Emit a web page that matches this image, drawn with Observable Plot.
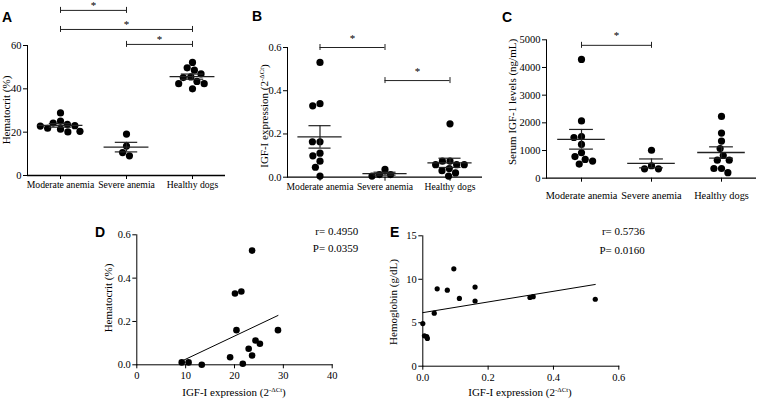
<!DOCTYPE html>
<html>
<head>
<meta charset="utf-8">
<script src="https://cdn.jsdelivr.net/npm/d3@7"></script>
<script src="https://cdn.jsdelivr.net/npm/@observablehq/plot@0.6"></script>
<style>
  html, body { margin: 0; padding: 0; background: #fff; }
  #fig { position: relative; width: 757px; height: 402px; background: #fff; overflow: hidden; font-family: "Liberation Serif", serif; color: #000; }
  #fig svg { position: absolute; background: transparent !important; overflow: visible; max-width: none; font-family: "Liberation Serif", serif !important; }
  #fig svg text, #fig svg g { font-family: "Liberation Serif", serif !important; }
  .ttl { position: absolute; font-family: "Liberation Serif", serif; font-size: 11px; white-space: nowrap; line-height: 1; }
  .rot { transform: translate(-50%, -50%) rotate(-90deg); }
  .hor { transform: translate(-50%, -50%); }
  .ttl sup { font-size: 0.62em; vertical-align: 0.55em; line-height: 0; }
  .letter { position: absolute; font-family: "Liberation Sans", Arial, sans-serif; font-weight: bold; font-size: 14px; line-height: 14px; }
</style>
</head>
<body>
<div id="fig"></div>
<script>
// ---------- data ----------
const groups = ["Moderate anemia", "Severe anemia", "Healthy dogs"];

// Panel A: Hematocrit (%)
const hctModerate = [28.9, 25.1, 24.2, 23.6, 23.0, 21.8, 21.4, 20.4, 20.1, 22.8];
const hctSevere = [19.1, 13.6, 10.6, 9.1];
const hctHealthy = [52.2, 49.7, 48.6, 46.9, 45.5, 45.2, 43.4, 42.4, 42.4, 40.0];
const ticksA = [0, 20, 40, 60];
const bracketsA = [[0, 1, 76.2], [0, 2, 67.4], [1, 2, 60.5]];

// Panel B: IGF-I expression (2^-ΔCt)
const igfModerate = [0.531, 0.340, 0.330, 0.164, 0.164, 0.111, 0.099, 0.074, 0.046, 0.005];
const igfSevere = [0.036, 0.012, 0.012, 0.005];
const igfHealthy = [0.247, 0.075, 0.074, 0.058, 0.058, 0.058, 0.040, 0.030, 0.020, 0.005];
const ticksB = [0, 0.2, 0.4, 0.6];
const bracketsB = [[0, 1, 0.6], [1, 2, 0.447]];

// Panel C: Serum IGF-1 levels (ng/mL)
const serumModerate = [4290, 2070, 1500, 1470, 1220, 920, 780, 680, 620, 510];
const serumSevere = [1010, 450, 340, 340];
const serumHealthy = [2230, 1630, 1340, 1070, 820, 650, 650, 350, 350, 200];
const ticksC = [0, 1000, 2000, 3000, 4000, 5000];
const bracketsC = [[0, 1, 4800]];

// Panel D: hematocrit (y) vs IGF-I expression (x)
const dX = [23.6, 20.1, 21.4, 20.4, 28.9, 24.3, 25.2, 22.9, 23.6, 19.1, 21.7, 13.3, 10.6, 9.2];
const dY = [0.527, 0.329, 0.338, 0.160, 0.160, 0.112, 0.097, 0.074, 0.043, 0.035, 0.005, 0.000, 0.011, 0.011];
const ticksDx = [0, 10, 20, 30, 40];
const ticksDy = [0, 0.2, 0.4, 0.6];
const statsD = ["r= 0.4950", "P= 0.0359"];

// Panel E: hemoglobin (y) vs IGF-I expression (x)
const eX = [0.095, 0.044, 0.075, 0.160, 0.112, 0.160, 0.328, 0.338, 0.528, 0.035, 0.000, 0.005, 0.012, 0.014];
const eY = [11.2, 8.9, 8.75, 9.1, 7.8, 7.5, 7.9, 8.0, 7.7, 6.1, 4.9, 3.5, 3.4, 3.2];
const ticksEx = [0, 0.2, 0.4, 0.6];
const ticksEy = [0, 5, 10, 15];
const statsE = ["r= 0.5736", "P= 0.0160"];

// ---------- helpers ----------
const fig = document.getElementById("fig");
const baseStyle = {fontFamily: "'Liberation Serif', serif", fontSize: "10.5px", background: "transparent", color: "black", overflow: "visible"};

function place(svg, left, top) {
  svg.style.left = left + "px";
  svg.style.top = top + "px";
  fig.appendChild(svg);
}

function dotPanel(o) {
  const rows = o.series.flatMap((vals, i) => vals.map(v => ({g: groups[i], v})));
  const stats = o.series.map((vals, i) => {
    const m = d3.mean(vals), s = d3.deviation(vals) / Math.sqrt(vals.length);
    return {g: groups[i], mean: m, lo: m - s, hi: m + s};
  });
  const br = o.brackets.map(([a, b, level]) => ({from: groups[a], span: b - a, level}));
  const base = groups.map(g => ({g, v: o.yDomain[0]}));
  const svg = Plot.plot({
    width: o.width, height: o.height,
    marginLeft: o.ml, marginRight: o.mr, marginTop: o.mt, marginBottom: o.mb,
    style: baseStyle,
    fx: {domain: groups, padding: 0, axis: "bottom", label: null, tickSize: 4, tickPadding: o.catPad},
    x: {domain: [-0.5, 0.5], axis: null},
    y: {domain: o.yDomain, ticks: o.yTicks, tickFormat: o.yFormat, line: true, tickSize: 4, tickPadding: 2, label: null},
    marks: [
      Plot.ruleY(base, {fx: "g", y: "v", stroke: "black", strokeWidth: 1.3}),
      Plot.dot(rows, Plot.dodgeX({anchor: "middle", padding: 0.4}, {fx: "g", y: "v", r: o.r, fill: "black"})),
      Plot.ruleY(stats, {fx: "g", y: "mean", x1: -0.34, x2: 0.34, stroke: "#222", strokeWidth: 1.3}),
      Plot.ruleY(stats, {fx: "g", y: "hi", x1: -0.17, x2: 0.17, stroke: "#222", strokeWidth: 1.2}),
      Plot.ruleY(stats, {fx: "g", y: "lo", x1: -0.17, x2: 0.17, stroke: "#222", strokeWidth: 1.2}),
      Plot.ruleX(stats, {fx: "g", x: 0, y1: "lo", y2: "hi", stroke: "#222", strokeWidth: 1.2}),
      Plot.ruleY(br, {fx: "from", y: "level", x1: 0, x2: "span", stroke: "#222", strokeWidth: 1}),
      Plot.ruleX(br, {fx: "from", x: 0, y1: "level", y2: "level", insetTop: -3, insetBottom: -3, stroke: "#222", strokeWidth: 1}),
      Plot.ruleX(br, {fx: "from", x: "span", y1: "level", y2: "level", insetTop: -3, insetBottom: -3, stroke: "#222", strokeWidth: 1}),
      Plot.text(br, {fx: "from", x: d => d.span / 2, y: "level", text: () => "*", dy: o.starDy, fontSize: 11, fill: "black"})
    ]
  });
  svg.querySelectorAll('[aria-label^="fx-axis"] text').forEach(t => t.style.fontSize = o.catFont);
  place(svg, o.left, o.top);
}

function scatterPanel(o) {
  const rows = o.xs.map((x, i) => ({x, y: o.ys[i]}));
  const svg = Plot.plot({
    width: o.width, height: o.height,
    marginLeft: o.ml, marginRight: o.mr, marginTop: o.mt, marginBottom: o.mb,
    style: baseStyle,
    x: {domain: o.xDomain, ticks: o.xTicks, tickFormat: o.xFormat, line: true, tickSize: 4, tickPadding: 3, label: null},
    y: {domain: o.yDomain, ticks: o.yTicks, tickFormat: o.yFormat, line: true, tickSize: 4, tickPadding: 2, label: null},
    marks: [
      Plot.dot(rows, {x: "x", y: "y", r: o.r, fill: "black"}),
      Plot.linearRegressionY(rows, {x: "x", y: "y", ci: 0, stroke: "black", strokeWidth: 1}),
      Plot.text([o.stats[0]], {frameAnchor: "top-right", textAnchor: "end", dx: 26, dy: o.dy0, fontSize: 11, fill: "black"}),
      Plot.text([o.stats[1]], {frameAnchor: "top-right", textAnchor: "end", dx: 26, dy: o.dy1, fontSize: 11, fill: "black"})
    ]
  });
  place(svg, o.left, o.top);
}

// ---------- panels ----------
dotPanel({series: [hctModerate, hctSevere, hctHealthy], yDomain: [0, 60], yTicks: ticksA, yFormat: "d",
  brackets: bracketsA, left: 0, top: 0, width: 240, height: 205, ml: 27, mr: 15, mt: 45, mb: 30,
  catPad: 2, catFont: "9.7px", starDy: -5, r: 3.6});

dotPanel({series: [igfModerate, igfSevere, igfHealthy], yDomain: [0, 0.6], yTicks: ticksB, yFormat: ".1f",
  brackets: bracketsB, left: 250, top: 0, width: 250, height: 205, ml: 37, mr: 18, mt: 47, mb: 28.3,
  catPad: 2, catFont: "9.6px", starDy: -9, r: 3.6});

dotPanel({series: [serumModerate, serumSevere, serumHealthy], yDomain: [0, 5000], yTicks: ticksC, yFormat: "d",
  brackets: bracketsC, left: 500, top: 0, width: 257, height: 205, ml: 45, mr: 0, mt: 39.3, mb: 27.3,
  catPad: 9, catFont: "10.3px", starDy: -10, r: 3.6});

scatterPanel({xs: dX, ys: dY, xDomain: [0, 40], yDomain: [0, 0.6], xTicks: ticksDx, yTicks: ticksDy, xFormat: "d", yFormat: ".1f",
  stats: statsD, dy0: -8, dy1: 9, left: 95, top: 215, width: 280, height: 187, ml: 41.3, mr: 43.3, mt: 19.3, mb: 37.7, r: 3.3});

scatterPanel({xs: eX, ys: eY, xDomain: [0, 0.6], yDomain: [0, 15], xTicks: ticksEx, yTicks: ticksEy, xFormat: ".1f", yFormat: "d",
  stats: statsE, dy0: -8.6, dy1: 10, left: 390, top: 215, width: 290, height: 187, ml: 32.3, mr: 61.7, mt: 20.3, mb: 36.3, r: 2.6});

// ---------- titles and panel letters ----------
const titles = [
  {html: "Hematocrit (%)", x: 6, y: 110, cls: "rot"},
  {html: "IGF-I expression (2<sup>-ΔCt</sup>)", x: 264, y: 116, cls: "rot"},
  {html: "Serum IGF-1 levels (ng/mL)", x: 512, y: 102, cls: "rot"},
  {html: "Hematocrit (%)", x: 108, y: 298, cls: "rot"},
  {html: "Hemoglobin (g/dL)", x: 393, y: 302, cls: "rot"},
  {html: "IGF-I expression (2<sup>-ΔCt</sup>)", x: 234, y: 392, cls: "hor"},
  {html: "IGF-I expression (2<sup>-ΔCt</sup>)", x: 520, y: 392, cls: "hor"}
];
for (const t of titles) {
  const d = document.createElement("div");
  d.className = "ttl " + t.cls;
  d.innerHTML = t.html;
  d.style.left = t.x + "px";
  d.style.top = t.y + "px";
  fig.appendChild(d);
}
const letters = [["A", 2, 10], ["B", 252, 9], ["C", 502, 10], ["D", 95, 225], ["E", 390, 225]];
for (const [s, x, y] of letters) {
  const d = document.createElement("div");
  d.className = "letter";
  d.textContent = s;
  d.style.left = x + "px";
  d.style.top = y + "px";
  fig.appendChild(d);
}
</script>
</body>
</html>
